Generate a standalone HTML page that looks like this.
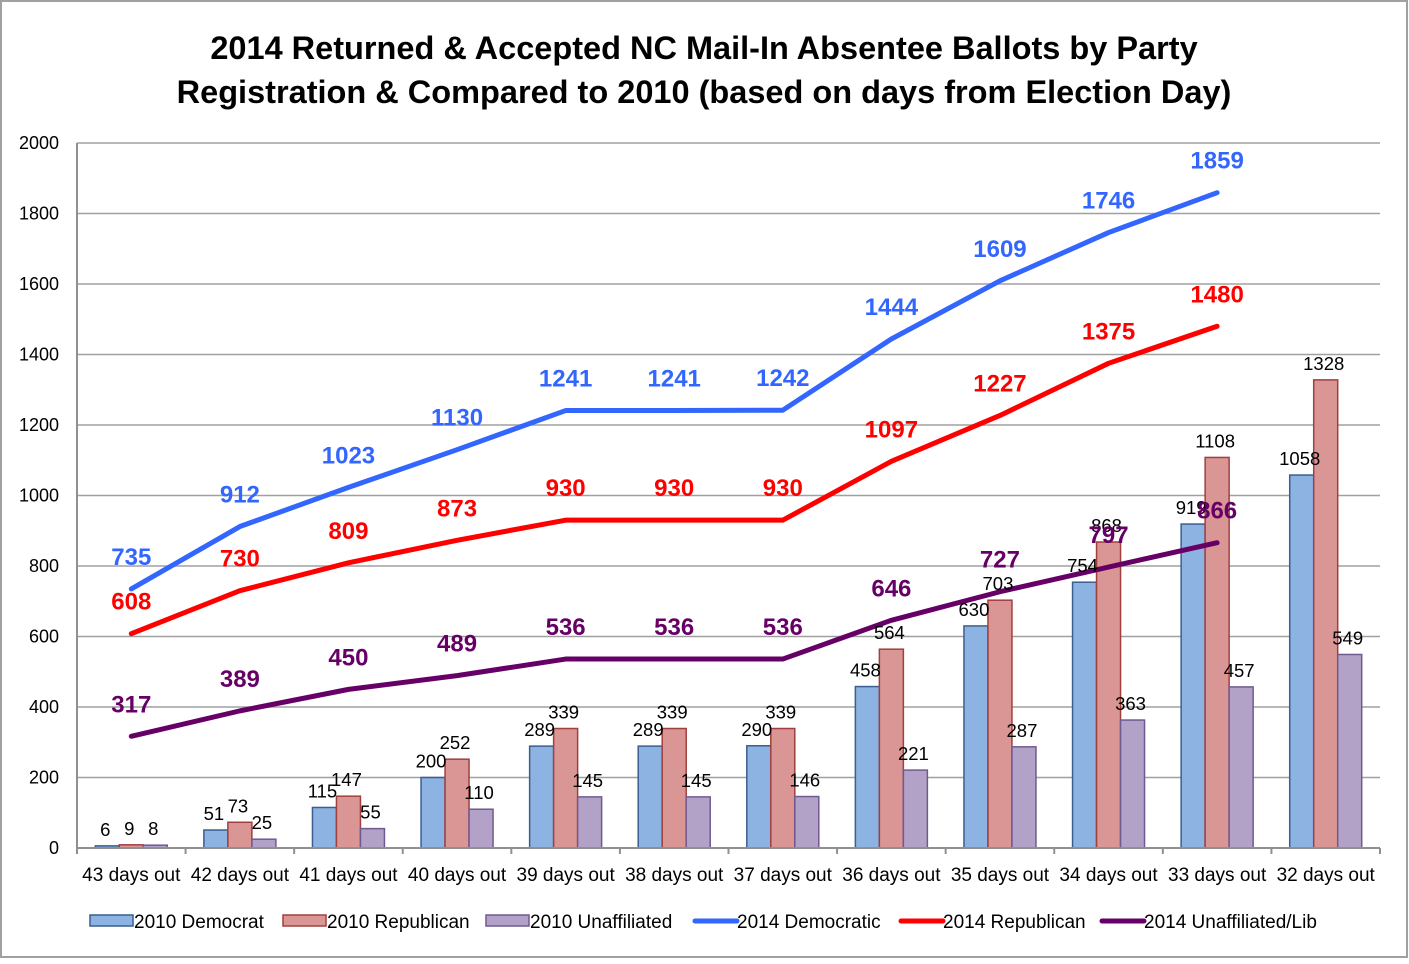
<!DOCTYPE html>
<html><head><meta charset="utf-8"><style>
html,body{margin:0;padding:0;background:#fff}
svg text{font-family:"Liberation Sans",sans-serif}
</style></head><body>
<svg id="chart" width="1409" height="959" viewBox="0 0 1409 959" xmlns="http://www.w3.org/2000/svg">
<rect x="1" y="1" width="1406" height="956" fill="#fff" stroke="#a0a0a0" stroke-width="2"/>
<text x="704" y="59" text-anchor="middle" font-size="32.5" font-weight="bold">2014 Returned &amp; Accepted NC Mail-In Absentee Ballots by Party</text>
<text x="704" y="103" text-anchor="middle" font-size="32.5" font-weight="bold">Registration &amp; Compared to 2010 (based on days from Election Day)</text>
<g id="grid"></g><g id="bars"></g><g id="lines"></g><g id="labels"></g><g id="axes"></g><g id="legend"></g>
</svg>
<script>
const categories=["43 days out","42 days out","41 days out","40 days out","39 days out","38 days out","37 days out","36 days out","35 days out","34 days out","33 days out","32 days out"];
const dem2010=[6,51,115,200,289,289,290,458,630,754,919,1058];
const rep2010=[9,73,147,252,339,339,339,564,703,868,1108,1328];
const una2010=[8,25,55,110,145,145,146,221,287,363,457,549];
const dem2014=[735,912,1023,1130,1241,1241,1242,1444,1609,1746,1859];
const rep2014=[608,730,809,873,930,930,930,1097,1227,1375,1480];
const una2014=[317,389,450,489,536,536,536,646,727,797,866];
const yTicks=[0,200,400,600,800,1000,1200,1400,1600,1800,2000];
const NS="http://www.w3.org/2000/svg";
const X0=77,X1=1380,Y0=848,Y1=143,YMAX=2000;
const bw=(X1-X0)/categories.length;
const xc=i=>X0+bw*(i+0.5);
const y=v=>Y0-(v/YMAX)*(Y0-Y1);
function mk(tag,attrs,parent,txt){const e=document.createElementNS(NS,tag);for(const k in attrs)e.setAttribute(k,attrs[k]);if(txt!==undefined)e.textContent=txt;document.getElementById(parent).appendChild(e);return e;}
yTicks.forEach(t=>{
  if(t>0){const g=mk('line',{x1:X0,x2:X1,y1:y(t),y2:y(t),stroke:'#a0a0a0','stroke-width':1.5},'grid');
  
  }
  const l=mk('text',{x:59,y:y(t)+6,'text-anchor':'end','font-size':18},'axes',t);
  
  
});
const ax=mk('line',{x1:X0,x2:X1,y1:Y0,y2:Y0,stroke:'#909090','stroke-width':2},'axes');


const ay=mk('line',{x1:X0,x2:X0,y1:Y1,y2:Y0,stroke:'#909090','stroke-width':2},'axes');


for(let i=0;i<=categories.length;i++){const t=mk('line',{x1:X0+bw*i,x2:X0+bw*i,y1:Y0,y2:Y0+6,stroke:'#909090','stroke-width':2},'axes');

}
categories.forEach((c,i)=>{const t=mk('text',{x:xc(i),y:881,'text-anchor':'middle','font-size':19},'axes',c);

});
const barSeries=[[dem2010,'#8db3e2','#3a5f8f','bar-2010-democrat'],[rep2010,'#d99694','#a0403e','bar-2010-republican'],[una2010,'#b3a2c7','#6f5a90','bar-2010-unaffiliated']];
const BW=24;
barSeries.forEach((s,k)=>{s[0].forEach((v,i)=>{
  const x=xc(i)-36+k*BW;
  const r=mk('rect',{x:x,y:y(v),width:BW,height:Y0-y(v),fill:s[1],stroke:s[2],'stroke-width':1.5},'bars');
  
  
  const t=mk('text',{x:x+BW/2-2,y:y(v)-10,'text-anchor':'middle','font-size':18.5},'labels',v);
  
  
});});
const lineSeries=[[dem2014,'#3366ff','line-2014-democratic'],[rep2014,'#ff0000','line-2014-republican'],[una2014,'#660066','line-2014-unaffiliated']];
lineSeries.forEach(s=>{
  const p=mk('polyline',{points:s[0].map((v,i)=>xc(i)+','+y(v)).join(' '),fill:'none',stroke:s[1],'stroke-width':5,'stroke-linecap':'round','stroke-linejoin':'round'},'lines');
  
  
  s[0].forEach((v,i)=>{const t=mk('text',{x:xc(i),y:y(v)-24,'text-anchor':'middle','font-size':24,'font-weight':'bold',fill:s[1]},'labels',v);
  
  });
});
const leg=[['box','#8db3e2','#3a5f8f',90,'2010 Democrat'],['box','#d99694','#a0403e',283,'2010 Republican'],['box','#b3a2c7','#6f5a90',486,'2010 Unaffiliated'],['line','#3366ff','',693,'2014 Democratic'],['line','#ff0000','',899,'2014 Republican'],['line','#660066','',1100,'2014 Unaffiliated/Lib']];
leg.forEach(l=>{
  let m;
  if(l[0]==='box')m=mk('rect',{x:l[3],y:915,width:43,height:11,fill:l[1],stroke:l[2],'stroke-width':1.5},'legend');
  else m=mk('line',{x1:l[3]+2,x2:l[3]+44,y1:921,y2:921,stroke:l[1],'stroke-width':5,'stroke-linecap':'round'},'legend');
  
  
  const t=mk('text',{x:l[3]+44,y:928,'font-size':19},'legend',l[4]);
  
  
});
</script>
</body></html>
